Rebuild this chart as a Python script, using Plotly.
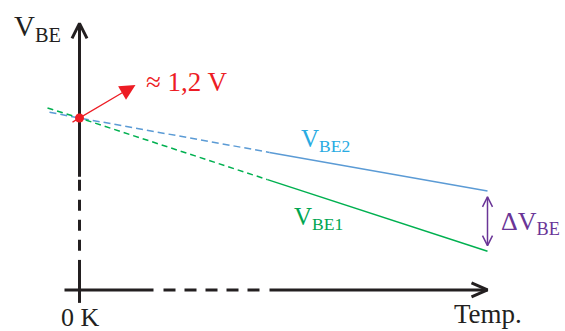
import plotly.graph_objects as go

# ---------------- data (schematic units: T in K, V in volts) ----------------
T_vbe1 = [-32, 0, 188, 408]
V_vbe1 = [1.27, 1.20, 0.77, 0.27]
T_vbe2 = [-30, 0, 190, 408]
V_vbe2 = [1.24, 1.20, 0.96, 0.69]
T0 = [0]
V0 = [1.20]

# axis segments (solid / dashed / solid)
T_xaxis = [-15, 74, 84, 181, 190, 408]
V_yaxis = [1.86, 0.79, 0.77, 0.26, 0.21, -0.09]

# delta arrow
T_delta = 408
V_delta = [0.65, 0.31]

labels = {
    "vbe": "V<sub>BE</sub>",
    "approx": "≈ 1,2 V",
    "vbe2": "V<sub>BE2</sub>",
    "vbe1": "V<sub>BE1</sub>",
    "dvbe": "ΔV<sub>BE</sub>",
    "zero": "0 K",
    "temp": "Temp.",
}

# ---------------- scales ----------------
PX_T = 1.0      # px per K
PX_V = 143.33   # px per V
def dT(px):
    return px / PX_T
def dV(px):
    return px / PX_V

AX = "#231f20"
BLUE = "#5b9bd5"
BLUE_T = "#29abe2"
GREEN = "#00b050"
GREEN_T = "#00a651"
RED = "#ed1c24"
PURPLE = "#6a3597"
FONT = "Liberation Serif"

fig = go.Figure()

def line(x, y, color, width, dash="solid"):
    fig.add_trace(go.Scatter(x=x, y=y, mode="lines", hoverinfo="skip",
                             line=dict(color=color, width=width, dash=dash)))

# x axis
line(T_xaxis[0:2], [0, 0], AX, 3)
line(T_xaxis[2:4], [0, 0], AX, 3, "12px,9px")
line(T_xaxis[4:6], [0, 0], AX, 3)
# y axis
line([0, 0], V_yaxis[0:2], AX, 3)
line([0, 0], V_yaxis[2:4], AX, 3, "11px,9px")
line([0, 0], V_yaxis[4:6], AX, 3)
# axis arrow heads (chevrons)
xt = T_xaxis[-1]
line([xt - dT(16), xt, xt - dT(16)], [dV(7), 0, -dV(7)], AX, 3)
yt = V_yaxis[0]
line([-dT(7.5), 0, dT(7.5)], [yt - dV(15), yt, yt - dV(15)], AX, 3)

# VBE2 (blue)
line(T_vbe2[0:3], V_vbe2[0:3], BLUE, 1.5, "7px,4px")
line(T_vbe2[2:4], V_vbe2[2:4], BLUE, 1.5)
# VBE1 (green)
line(T_vbe1[0:3], V_vbe1[0:3], GREEN, 1.5, "6px,4px")
line(T_vbe1[2:4], V_vbe1[2:4], GREEN, 1.5)

# delta arrow (purple)
line([T_delta, T_delta], V_delta, PURPLE, 1.5)
line([T_delta - dT(5), T_delta, T_delta + dT(5)],
     [V_delta[0] - dV(10), V_delta[0], V_delta[0] - dV(10)], PURPLE, 1.5)
line([T_delta - dT(5), T_delta, T_delta + dT(5)],
     [V_delta[1] + dV(10), V_delta[1], V_delta[1] + dV(10)], PURPLE, 1.5)

# red point
fig.add_trace(go.Scatter(x=T0, y=V0, mode="markers", hoverinfo="skip",
                         marker=dict(color=RED, size=9)))

# red arrow
fig.add_annotation(x=T0[0] + dT(56), y=V0[0] + dV(33), ax=T0[0] - dT(8.5), ay=V0[0] - dV(5),
                   xref="x", yref="y", axref="x", ayref="y", text="", showarrow=True,
                   arrowhead=2, arrowsize=2.6, arrowwidth=1.2, arrowcolor=RED)

def text(t, x, y, size, color, xanchor="left", yanchor="middle"):
    fig.add_annotation(x=x, y=y, xref="x", yref="y", text=t, showarrow=False,
                       xanchor=xanchor, yanchor=yanchor,
                       font=dict(family=FONT, size=size, color=color))

text(labels["vbe"], -68, 1.83, 29, AX)
text(labels["approx"], 64, 1.45, 27, RED)
text(labels["vbe2"], 219, 1.04, 25, BLUE_T)
text(labels["vbe1"], 212, 0.50, 25, GREEN_T)
text(labels["dvbe"], 419, 0.47, 26, PURPLE)
text(labels["zero"], 0.5, -0.195, 26, AX, xanchor="center")
text(labels["temp"], 372, -0.167, 27, AX)

fig.update_layout(
    width=565, height=331, margin=dict(l=0, r=0, t=0, b=0),
    paper_bgcolor="white", plot_bgcolor="white", showlegend=False,
    xaxis=dict(range=[-79.5, 485.5], visible=False, fixedrange=True),
    yaxis=dict(range=[-0.2861, 2.0233], visible=False, fixedrange=True),
)
fig.write_html("out.html", config={"displayModeBar": False},
               post_script="document.body.style.margin='0';")
